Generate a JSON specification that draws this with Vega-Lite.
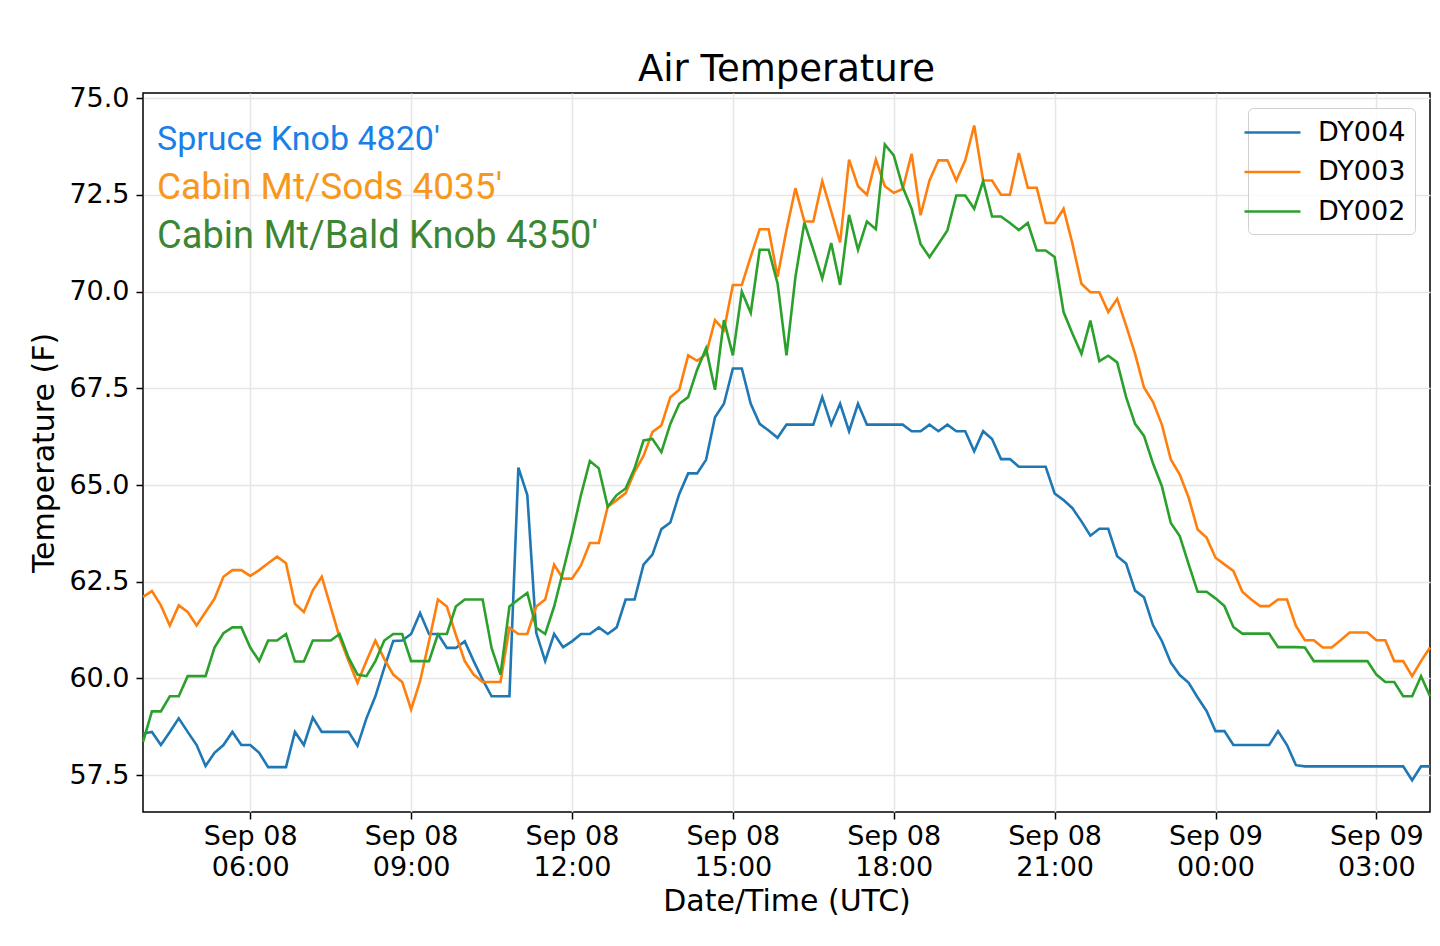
{
  "$schema": "https://vega.github.io/schema/vega-lite/v6.json",
  "width": 1287,
  "height": 719,
  "autosize": "none",
  "padding": {"left": 143, "top": 93, "right": 10, "bottom": 134},
  "background": "white",
  "config": {
    "view": {"stroke": "black", "strokeWidth": 1.5},
    "font": "DejaVu Sans"
  },
  "title": {
    "text": "Air Temperature",
    "font": "DejaVu Sans",
    "fontSize": 37,
    "fontWeight": "normal",
    "color": "black",
    "offset": -5
  },
  "data": {
    "values": [
      {"t": "2020-09-08T04:00:00Z", "DY004": 58.58, "DY003": 62.11, "DY002": 58.36},
      {"t": "2020-09-08T04:10:00Z", "DY004": 58.62, "DY003": 62.26, "DY002": 59.15},
      {"t": "2020-09-08T04:20:00Z", "DY004": 58.28, "DY003": 61.89, "DY002": 59.15},
      {"t": "2020-09-08T04:30:00Z", "DY004": 58.62, "DY003": 61.37, "DY002": 59.54},
      {"t": "2020-09-08T04:40:00Z", "DY004": 58.97, "DY003": 61.89, "DY002": 59.54},
      {"t": "2020-09-08T04:50:00Z", "DY004": 58.62, "DY003": 61.72, "DY002": 60.06},
      {"t": "2020-09-08T05:00:00Z", "DY004": 58.28, "DY003": 61.37, "DY002": 60.06},
      {"t": "2020-09-08T05:10:00Z", "DY004": 57.74, "DY003": 61.72, "DY002": 60.06},
      {"t": "2020-09-08T05:20:00Z", "DY004": 58.08, "DY003": 62.06, "DY002": 60.80},
      {"t": "2020-09-08T05:30:00Z", "DY004": 58.28, "DY003": 62.63, "DY002": 61.17},
      {"t": "2020-09-08T05:40:00Z", "DY004": 58.62, "DY003": 62.80, "DY002": 61.32},
      {"t": "2020-09-08T05:50:00Z", "DY004": 58.28, "DY003": 62.80, "DY002": 61.32},
      {"t": "2020-09-08T06:00:00Z", "DY004": 58.28, "DY003": 62.65, "DY002": 60.80},
      {"t": "2020-09-08T06:10:00Z", "DY004": 58.08, "DY003": 62.80, "DY002": 60.45},
      {"t": "2020-09-08T06:20:00Z", "DY004": 57.71, "DY003": 62.98, "DY002": 60.98},
      {"t": "2020-09-08T06:30:00Z", "DY004": 57.71, "DY003": 63.15, "DY002": 60.98},
      {"t": "2020-09-08T06:40:00Z", "DY004": 57.71, "DY003": 62.98, "DY002": 61.15},
      {"t": "2020-09-08T06:50:00Z", "DY004": 58.62, "DY003": 61.93, "DY002": 60.44},
      {"t": "2020-09-08T07:00:00Z", "DY004": 58.28, "DY003": 61.72, "DY002": 60.44},
      {"t": "2020-09-08T07:10:00Z", "DY004": 58.99, "DY003": 62.28, "DY002": 60.98},
      {"t": "2020-09-08T07:20:00Z", "DY004": 58.62, "DY003": 62.63, "DY002": 60.98},
      {"t": "2020-09-08T07:30:00Z", "DY004": 58.62, "DY003": 61.85, "DY002": 60.98},
      {"t": "2020-09-08T07:40:00Z", "DY004": 58.62, "DY003": 61.06, "DY002": 61.15},
      {"t": "2020-09-08T07:50:00Z", "DY004": 58.62, "DY003": 60.45, "DY002": 60.54},
      {"t": "2020-09-08T08:00:00Z", "DY004": 58.26, "DY003": 59.89, "DY002": 60.10},
      {"t": "2020-09-08T08:10:00Z", "DY004": 58.97, "DY003": 60.45, "DY002": 60.06},
      {"t": "2020-09-08T08:20:00Z", "DY004": 59.54, "DY003": 60.98, "DY002": 60.45},
      {"t": "2020-09-08T08:30:00Z", "DY004": 60.28, "DY003": 60.50, "DY002": 60.98},
      {"t": "2020-09-08T08:40:00Z", "DY004": 60.97, "DY003": 60.10, "DY002": 61.15},
      {"t": "2020-09-08T08:50:00Z", "DY004": 60.98, "DY003": 59.91, "DY002": 61.15},
      {"t": "2020-09-08T09:00:00Z", "DY004": 61.15, "DY003": 59.20, "DY002": 60.45},
      {"t": "2020-09-08T09:10:00Z", "DY004": 61.69, "DY003": 59.93, "DY002": 60.45},
      {"t": "2020-09-08T09:20:00Z", "DY004": 61.15, "DY003": 60.96, "DY002": 60.45},
      {"t": "2020-09-08T09:30:00Z", "DY004": 61.15, "DY003": 62.04, "DY002": 61.15},
      {"t": "2020-09-08T09:40:00Z", "DY004": 60.79, "DY003": 61.86, "DY002": 61.15},
      {"t": "2020-09-08T09:50:00Z", "DY004": 60.79, "DY003": 61.13, "DY002": 61.86},
      {"t": "2020-09-08T10:00:00Z", "DY004": 60.96, "DY003": 60.45, "DY002": 62.04},
      {"t": "2020-09-08T10:10:00Z", "DY004": 60.45, "DY003": 60.10, "DY002": 62.04},
      {"t": "2020-09-08T10:20:00Z", "DY004": 59.97, "DY003": 59.91, "DY002": 62.04},
      {"t": "2020-09-08T10:30:00Z", "DY004": 59.54, "DY003": 59.91, "DY002": 60.79},
      {"t": "2020-09-08T10:40:00Z", "DY004": 59.54, "DY003": 59.91, "DY002": 60.10},
      {"t": "2020-09-08T10:50:00Z", "DY004": 59.54, "DY003": 61.31, "DY002": 61.86},
      {"t": "2020-09-08T11:00:00Z", "DY004": 65.45, "DY003": 61.15, "DY002": 62.04},
      {"t": "2020-09-08T11:10:00Z", "DY004": 64.74, "DY003": 61.15, "DY002": 62.21},
      {"t": "2020-09-08T11:20:00Z", "DY004": 61.18, "DY003": 61.86, "DY002": 61.31},
      {"t": "2020-09-08T11:30:00Z", "DY004": 60.45, "DY003": 62.04, "DY002": 61.15},
      {"t": "2020-09-08T11:40:00Z", "DY004": 61.15, "DY003": 62.94, "DY002": 61.86},
      {"t": "2020-09-08T11:50:00Z", "DY004": 60.81, "DY003": 62.58, "DY002": 62.77},
      {"t": "2020-09-08T12:00:00Z", "DY004": 60.96, "DY003": 62.58, "DY002": 63.71},
      {"t": "2020-09-08T12:10:00Z", "DY004": 61.15, "DY003": 62.92, "DY002": 64.74},
      {"t": "2020-09-08T12:20:00Z", "DY004": 61.15, "DY003": 63.50, "DY002": 65.62},
      {"t": "2020-09-08T12:30:00Z", "DY004": 61.32, "DY003": 63.50, "DY002": 65.43},
      {"t": "2020-09-08T12:40:00Z", "DY004": 61.15, "DY003": 64.44, "DY002": 64.44},
      {"t": "2020-09-08T12:50:00Z", "DY004": 61.32, "DY003": 64.61, "DY002": 64.74},
      {"t": "2020-09-08T13:00:00Z", "DY004": 62.04, "DY003": 64.79, "DY002": 64.91},
      {"t": "2020-09-08T13:10:00Z", "DY004": 62.04, "DY003": 65.34, "DY002": 65.43},
      {"t": "2020-09-08T13:20:00Z", "DY004": 62.94, "DY003": 65.75, "DY002": 66.15},
      {"t": "2020-09-08T13:30:00Z", "DY004": 63.20, "DY003": 66.37, "DY002": 66.19},
      {"t": "2020-09-08T13:40:00Z", "DY004": 63.86, "DY003": 66.54, "DY002": 65.85},
      {"t": "2020-09-08T13:50:00Z", "DY004": 64.03, "DY003": 67.27, "DY002": 66.58},
      {"t": "2020-09-08T14:00:00Z", "DY004": 64.77, "DY003": 67.46, "DY002": 67.10},
      {"t": "2020-09-08T14:10:00Z", "DY004": 65.30, "DY003": 68.35, "DY002": 67.27},
      {"t": "2020-09-08T14:20:00Z", "DY004": 65.30, "DY003": 68.21, "DY002": 67.98},
      {"t": "2020-09-08T14:30:00Z", "DY004": 65.65, "DY003": 68.38, "DY002": 68.53},
      {"t": "2020-09-08T14:40:00Z", "DY004": 66.75, "DY003": 69.26, "DY002": 67.46},
      {"t": "2020-09-08T14:50:00Z", "DY004": 67.10, "DY003": 69.00, "DY002": 69.26},
      {"t": "2020-09-08T15:00:00Z", "DY004": 68.01, "DY003": 70.17, "DY002": 68.35},
      {"t": "2020-09-08T15:10:00Z", "DY004": 68.01, "DY003": 70.17, "DY002": 70.00},
      {"t": "2020-09-08T15:20:00Z", "DY004": 67.10, "DY003": 70.90, "DY002": 69.45},
      {"t": "2020-09-08T15:30:00Z", "DY004": 66.58, "DY003": 71.61, "DY002": 71.08},
      {"t": "2020-09-08T15:40:00Z", "DY004": 66.41, "DY003": 71.61, "DY002": 71.08},
      {"t": "2020-09-08T15:50:00Z", "DY004": 66.22, "DY003": 70.38, "DY002": 70.21},
      {"t": "2020-09-08T16:00:00Z", "DY004": 66.56, "DY003": 71.59, "DY002": 68.35},
      {"t": "2020-09-08T16:10:00Z", "DY004": 66.56, "DY003": 72.67, "DY002": 70.38},
      {"t": "2020-09-08T16:20:00Z", "DY004": 66.56, "DY003": 71.81, "DY002": 71.78},
      {"t": "2020-09-08T16:30:00Z", "DY004": 66.56, "DY003": 71.81, "DY002": 71.08},
      {"t": "2020-09-08T16:40:00Z", "DY004": 67.27, "DY003": 72.85, "DY002": 70.34},
      {"t": "2020-09-08T16:50:00Z", "DY004": 66.56, "DY003": 72.07, "DY002": 71.25},
      {"t": "2020-09-08T17:00:00Z", "DY004": 67.10, "DY003": 71.27, "DY002": 70.17},
      {"t": "2020-09-08T17:10:00Z", "DY004": 66.39, "DY003": 73.41, "DY002": 71.98},
      {"t": "2020-09-08T17:20:00Z", "DY004": 67.10, "DY003": 72.72, "DY002": 71.08},
      {"t": "2020-09-08T17:30:00Z", "DY004": 66.56, "DY003": 72.50, "DY002": 71.81},
      {"t": "2020-09-08T17:40:00Z", "DY004": 66.56, "DY003": 73.41, "DY002": 71.61},
      {"t": "2020-09-08T17:50:00Z", "DY004": 66.56, "DY003": 72.72, "DY002": 73.80},
      {"t": "2020-09-08T18:00:00Z", "DY004": 66.56, "DY003": 72.55, "DY002": 73.52},
      {"t": "2020-09-08T18:10:00Z", "DY004": 66.56, "DY003": 72.65, "DY002": 72.70},
      {"t": "2020-09-08T18:20:00Z", "DY004": 66.39, "DY003": 73.56, "DY002": 72.14},
      {"t": "2020-09-08T18:30:00Z", "DY004": 66.39, "DY003": 71.97, "DY002": 71.23},
      {"t": "2020-09-08T18:40:00Z", "DY004": 66.56, "DY003": 72.87, "DY002": 70.89},
      {"t": "2020-09-08T18:50:00Z", "DY004": 66.39, "DY003": 73.39, "DY002": 71.23},
      {"t": "2020-09-08T19:00:00Z", "DY004": 66.56, "DY003": 73.39, "DY002": 71.58},
      {"t": "2020-09-08T19:10:00Z", "DY004": 66.39, "DY003": 72.87, "DY002": 72.48},
      {"t": "2020-09-08T19:20:00Z", "DY004": 66.39, "DY003": 73.39, "DY002": 72.48},
      {"t": "2020-09-08T19:30:00Z", "DY004": 65.87, "DY003": 74.29, "DY002": 72.14},
      {"t": "2020-09-08T19:40:00Z", "DY004": 66.39, "DY003": 72.87, "DY002": 72.85},
      {"t": "2020-09-08T19:50:00Z", "DY004": 66.19, "DY003": 72.87, "DY002": 71.94},
      {"t": "2020-09-08T20:00:00Z", "DY004": 65.67, "DY003": 72.50, "DY002": 71.94},
      {"t": "2020-09-08T20:10:00Z", "DY004": 65.67, "DY003": 72.50, "DY002": 71.77},
      {"t": "2020-09-08T20:20:00Z", "DY004": 65.47, "DY003": 73.58, "DY002": 71.59},
      {"t": "2020-09-08T20:30:00Z", "DY004": 65.47, "DY003": 72.68, "DY002": 71.77},
      {"t": "2020-09-08T20:40:00Z", "DY004": 65.47, "DY003": 72.68, "DY002": 71.06},
      {"t": "2020-09-08T20:50:00Z", "DY004": 65.47, "DY003": 71.77, "DY002": 71.06},
      {"t": "2020-09-08T21:00:00Z", "DY004": 64.78, "DY003": 71.77, "DY002": 70.89},
      {"t": "2020-09-08T21:10:00Z", "DY004": 64.61, "DY003": 72.14, "DY002": 69.47},
      {"t": "2020-09-08T21:20:00Z", "DY004": 64.40, "DY003": 71.23, "DY002": 68.91},
      {"t": "2020-09-08T21:30:00Z", "DY004": 64.06, "DY003": 70.20, "DY002": 68.39},
      {"t": "2020-09-08T21:40:00Z", "DY004": 63.69, "DY003": 69.98, "DY002": 69.25},
      {"t": "2020-09-08T21:50:00Z", "DY004": 63.87, "DY003": 69.98, "DY002": 68.20},
      {"t": "2020-09-08T22:00:00Z", "DY004": 63.87, "DY003": 69.47, "DY002": 68.34},
      {"t": "2020-09-08T22:10:00Z", "DY004": 63.16, "DY003": 69.81, "DY002": 68.17},
      {"t": "2020-09-08T22:20:00Z", "DY004": 62.97, "DY003": 69.12, "DY002": 67.27},
      {"t": "2020-09-08T22:30:00Z", "DY004": 62.27, "DY003": 68.39, "DY002": 66.58},
      {"t": "2020-09-08T22:40:00Z", "DY004": 62.10, "DY003": 67.52, "DY002": 66.27},
      {"t": "2020-09-08T22:50:00Z", "DY004": 61.38, "DY003": 67.15, "DY002": 65.56},
      {"t": "2020-09-08T23:00:00Z", "DY004": 60.97, "DY003": 66.56, "DY002": 64.97},
      {"t": "2020-09-08T23:10:00Z", "DY004": 60.41, "DY003": 65.66, "DY002": 64.02},
      {"t": "2020-09-08T23:20:00Z", "DY004": 60.09, "DY003": 65.27, "DY002": 63.68},
      {"t": "2020-09-08T23:30:00Z", "DY004": 59.89, "DY003": 64.67, "DY002": 62.95},
      {"t": "2020-09-08T23:40:00Z", "DY004": 59.51, "DY003": 63.85, "DY002": 62.24},
      {"t": "2020-09-08T23:50:00Z", "DY004": 59.16, "DY003": 63.64, "DY002": 62.24},
      {"t": "2020-09-09T00:00:00Z", "DY004": 58.64, "DY003": 63.12, "DY002": 62.07},
      {"t": "2020-09-09T00:10:00Z", "DY004": 58.64, "DY003": 62.95, "DY002": 61.87},
      {"t": "2020-09-09T00:20:00Z", "DY004": 58.28, "DY003": 62.78, "DY002": 61.33},
      {"t": "2020-09-09T00:30:00Z", "DY004": 58.28, "DY003": 62.24, "DY002": 61.16},
      {"t": "2020-09-09T00:40:00Z", "DY004": 58.28, "DY003": 62.04, "DY002": 61.16},
      {"t": "2020-09-09T00:50:00Z", "DY004": 58.28, "DY003": 61.87, "DY002": 61.16},
      {"t": "2020-09-09T01:00:00Z", "DY004": 58.28, "DY003": 61.87, "DY002": 61.16},
      {"t": "2020-09-09T01:10:00Z", "DY004": 58.64, "DY003": 62.04, "DY002": 60.81},
      {"t": "2020-09-09T01:20:00Z", "DY004": 58.28, "DY003": 62.04, "DY002": 60.81},
      {"t": "2020-09-09T01:30:00Z", "DY004": 57.76, "DY003": 61.36, "DY002": 60.81},
      {"t": "2020-09-09T01:40:00Z", "DY004": 57.73, "DY003": 60.99, "DY002": 60.80},
      {"t": "2020-09-09T01:50:00Z", "DY004": 57.73, "DY003": 60.99, "DY002": 60.45},
      {"t": "2020-09-09T02:00:00Z", "DY004": 57.73, "DY003": 60.80, "DY002": 60.45},
      {"t": "2020-09-09T02:10:00Z", "DY004": 57.73, "DY003": 60.80, "DY002": 60.45},
      {"t": "2020-09-09T02:20:00Z", "DY004": 57.73, "DY003": 60.99, "DY002": 60.45},
      {"t": "2020-09-09T02:30:00Z", "DY004": 57.73, "DY003": 61.19, "DY002": 60.45},
      {"t": "2020-09-09T02:40:00Z", "DY004": 57.73, "DY003": 61.19, "DY002": 60.45},
      {"t": "2020-09-09T02:50:00Z", "DY004": 57.73, "DY003": 61.19, "DY002": 60.45},
      {"t": "2020-09-09T03:00:00Z", "DY004": 57.73, "DY003": 60.99, "DY002": 60.10},
      {"t": "2020-09-09T03:10:00Z", "DY004": 57.73, "DY003": 60.99, "DY002": 59.91},
      {"t": "2020-09-09T03:20:00Z", "DY004": 57.73, "DY003": 60.45, "DY002": 59.91},
      {"t": "2020-09-09T03:30:00Z", "DY004": 57.73, "DY003": 60.45, "DY002": 59.54},
      {"t": "2020-09-09T03:40:00Z", "DY004": 57.37, "DY003": 60.06, "DY002": 59.54},
      {"t": "2020-09-09T03:50:00Z", "DY004": 57.73, "DY003": 60.45, "DY002": 60.06},
      {"t": "2020-09-09T04:00:00Z", "DY004": 57.73, "DY003": 60.80, "DY002": 59.54}
    ]
  },
  "transform": [
    {"fold": ["DY004", "DY003", "DY002"], "as": ["station", "temp"]}
  ],
  "mark": {"type": "line", "strokeWidth": 2.6},
  "encoding": {
    "x": {
      "field": "t",
      "type": "temporal",
      "title": "Date/Time (UTC)",
      "scale": {"type": "utc", "domain": [1599537600000, 1599624000000]},
      "axis": {
        "values": [1599544800000, 1599555600000, 1599566400000, 1599577200000, 1599588000000, 1599598800000, 1599609600000, 1599620400000],
        "labelExpr": "[utcFormat(datum.value, '%b %d'), utcFormat(datum.value, '%H:%M')]",
        "tickSize": 7,
        "gridColor": "#e6e6e6",
        "gridWidth": 1.6,
        "domain": false,
        "tickColor": "black",
        "tickWidth": 1.5,
        "labelFont": "DejaVu Sans",
        "labelFontSize": 27,
        "labelColor": "black",
        "labelLineHeight": 31,
        "labelPadding": 4,
        "labelOverlap": false,
        "labelFlush": false,
        "titleFont": "DejaVu Sans",
        "titleFontSize": 30,
        "titleFontWeight": "normal",
        "titleColor": "black",
        "titlePadding": 6
      }
    },
    "y": {
      "field": "temp",
      "type": "quantitative",
      "title": "Temperature (F)",
      "scale": {"domain": [56.55, 75.13], "nice": false, "zero": false},
      "axis": {
        "values": [57.5, 60, 62.5, 65, 67.5, 70, 72.5, 75],
        "format": ".1f",
        "gridColor": "#e6e6e6",
        "gridWidth": 1.6,
        "domain": false,
        "tickColor": "black",
        "tickWidth": 1.5,
        "tickSize": 7,
        "labelFont": "DejaVu Sans",
        "labelFontSize": 27,
        "labelColor": "black",
        "labelPadding": 7,
        "titleFont": "DejaVu Sans",
        "titleFontSize": 30,
        "titleFontWeight": "normal",
        "titleColor": "black",
        "titlePadding": 9
      }
    },
    "color": {
      "field": "station",
      "type": "nominal",
      "scale": {"domain": ["DY004", "DY003", "DY002"], "range": ["#1f77b4", "#ff7f0e", "#2ca02c"]},
      "legend": {
        "orient": "top-right",
        "offset": 15,
        "padding": 9,
        "title": null,
        "fillColor": "rgba(255,255,255,0.8)",
        "strokeColor": "#d0d0d0",
        "cornerRadius": 5,
        "symbolType": "M-2,0H2",
        "symbolSize": 784,
        "symbolStrokeWidth": 2.6,
        "labelOffset": 30,
        "labelFont": "DejaVu Sans",
        "labelFontSize": 27,
        "labelColor": "black",
        "rowPadding": 10.5
      }
    },
    "strokeWidth": {
      "field": "station",
      "type": "ordinal",
      "scale": {"domain": ["DY004", "DY003", "DY002"], "range": [2.6, 2.6, 2.6]},
      "legend": {
        "orient": "top-left",
        "offset": 28,
        "padding": 0,
        "title": null,
        "symbolOpacity": 0,
        "symbolSize": 0,
        "labelOffset": -52,
        "labelLimit": 700,
        "labelFont": "Roboto",
        "labelFontSize": 34,
        "rowPadding": 12,
        "labelExpr": "datum.value == 'DY004' ? \"Spruce Knob 4820'\" : datum.value == 'DY003' ? \"Cabin Mt/Sods 4035'\" : \"Cabin Mt/Bald Knob 4350'\"",
        "encode": {
          "labels": {
            "update": {
              "fill": {"signal": "datum.value == 'DY004' ? '#1a7fe8' : datum.value == 'DY003' ? '#f7981d' : '#3b8632'"},
              "fontSize": {"signal": "datum.value == 'DY004' ? 34 : datum.value == 'DY003' ? 37 : 38"}
            }
          }
        }
      }
    }
  }
}
